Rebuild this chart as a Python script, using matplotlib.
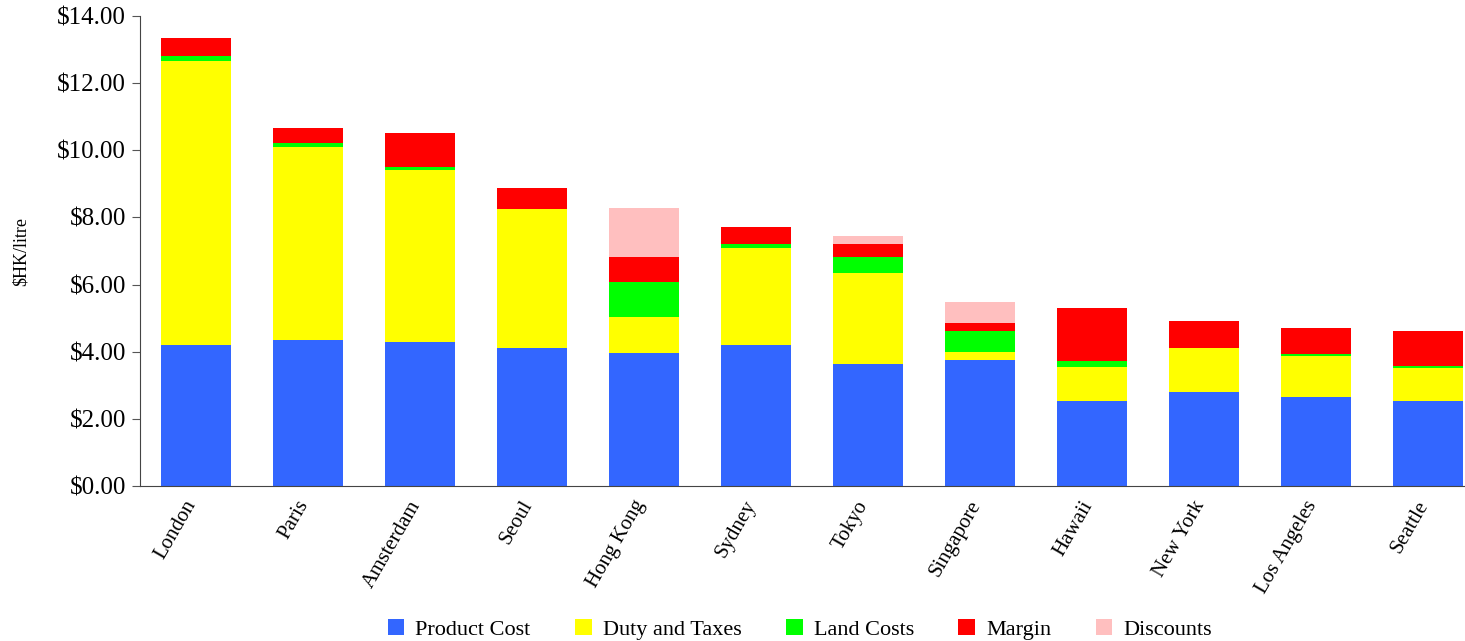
# grafico de barras empilhadas - custo por litro em varias cidades
# %%
import numpy as np
import matplotlib.pyplot as plt
import matplotlib.transforms as mtransforms

# %%
# dados
cities = ["London", "Paris", "Amsterdam", "Seoul", "Hong Kong", "Sydney",
          "Tokyo", "Singapore", "Hawaii", "New York", "Los Angeles", "Seattle"]
product_cost = [4.20, 4.35, 4.29, 4.11, 3.96, 4.20, 3.63, 3.75, 2.53, 2.80, 2.65, 2.53]
duty_taxes = [8.46, 5.75, 5.12, 4.14, 1.07, 2.89, 2.71, 0.24, 1.01, 1.31, 1.22, 0.98]
land_costs = [0.15, 0.12, 0.09, 0.00, 1.05, 0.12, 0.48, 0.63, 0.18, 0.00, 0.06, 0.06]
margin = [0.54, 0.44, 1.02, 0.63, 0.74, 0.51, 0.39, 0.24, 1.58, 0.81, 0.78, 1.05]
discounts = [0.00, 0.00, 0.00, 0.00, 1.46, 0.00, 0.24, 0.62, 0.00, 0.00, 0.00, 0.00]

series = [
    ("Product Cost", product_cost, "#3366FF"),
    ("Duty and Taxes", duty_taxes, "#FFFF00"),
    ("Land Costs", land_costs, "#00FF00"),
    ("Margin", margin, "#FF0000"),
    ("Discounts", discounts, "#FFBFBF"),
]

# %%
plt.rcParams['font.family'] = ['Liberation Serif', 'DejaVu Serif']

fig = plt.figure(figsize=(14.65, 6.41), dpi=100)
ax = fig.add_axes([0.0956, 0.2418, 0.9174, 0.7332])

x = np.arange(len(cities))
bottom = np.zeros(len(cities))
for name, vals, color in series:
    ax.bar(x, vals, width=0.63, bottom=bottom, color=color, label=name)
    bottom += np.array(vals)

ax.set_xlim(-0.5, len(cities) - 0.5)
ax.set_ylim(0, 14)
ax.set_yticks(np.arange(0, 15, 2))
ax.set_yticklabels(["$%.2f" % v for v in np.arange(0, 15, 2)], fontsize=18)
ax.set_xticks(x)
ax.set_xticklabels(cities, rotation=60, ha='right', rotation_mode='anchor', fontsize=15)
ax.tick_params(axis='x', length=0, pad=8)
# deslocar um pouco os rotulos para a esquerda
offset = mtransforms.ScaledTranslation(-0.12, 0, fig.dpi_scale_trans)
for lbl in ax.get_xticklabels():
    lbl.set_transform(lbl.get_transform() + offset)
ax.tick_params(axis='y', length=6, direction='out', color='#555555', pad=4)
ax.set_ylabel("$HK/litre", fontsize=13)
ax.yaxis.set_label_coords(-0.082, 0.5)

for side in ['top', 'right']:
    ax.spines[side].set_visible(False)
for side in ['left', 'bottom']:
    ax.spines[side].set_color('#444444')

fig.legend(loc='center', bbox_to_anchor=(0.546, 0.018), ncol=5, frameon=False,
           fontsize=16, handlelength=0.75, handleheight=0.75, columnspacing=2.0,
           handletextpad=0.5)

plt.savefig("out.png", dpi=100)
